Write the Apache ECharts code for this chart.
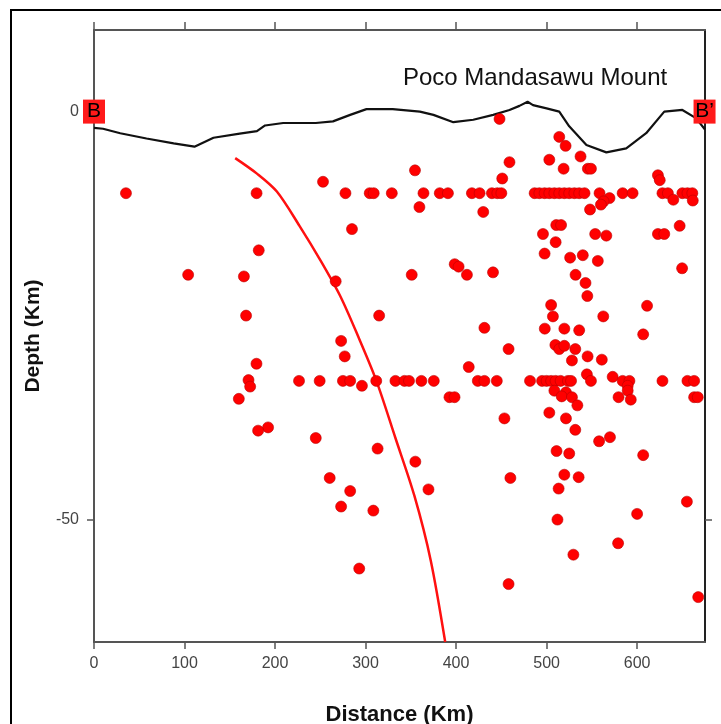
<!DOCTYPE html>
<html>
<head>
<meta charset="utf-8">
<script src="https://cdn.jsdelivr.net/npm/echarts@6/dist/echarts.min.js"></script>
<style>
  html, body { margin: 0; padding: 0; background: #fff; }
  #chart { width: 721px; height: 724px; }
</style>
</head>
<body>
<div id="chart"></div>
<script>
// 地形剖面 (km, km)
var topoDist = [0, 10, 29, 58, 88, 111, 132, 161, 180, 189, 209, 227, 245, 264, 283, 301, 330, 360, 375, 397, 419, 441, 459, 470, 479, 485, 500, 514, 525, 544, 566, 588, 610, 630, 650, 665, 675];
var topoElev = [-2.0, -2.1, -2.65, -3.3, -3.9, -4.3, -3.2, -2.7, -2.4, -1.7, -1.4, -1.4, -1.4, -1.2, -0.4, 0.3, 0.3, 0.0, -0.4, -1.3, -1.0, -0.4, 0.2, 0.7, 1.2, 0.8, 0.4, 0.0, -1.8, -4.1, -5.0, -4.5, -2.65, 0.0, 0.2, -0.8, -2.2];

// 红色曲线
var slabDist = [156, 180, 202, 227, 250, 272, 292, 312, 333, 354, 372, 388];
var slabDepth = [-5.7, -7.6, -9.8, -14, -18.2, -22.6, -27.6, -33, -40, -47.1, -55, -65];

// 震源
var quakeDist = [
  448, 514, 521, 537.5, 503, 459, 354.6, 518.8, 545.6, 549, 623, 625, 253, 451,
  35.3, 179.6, 277.8, 304.6, 309, 329, 364, 382, 391, 417.5, 426, 439.6, 445.6, 450,
  486.8, 492, 497.8, 503, 508.6, 514, 519.6, 525, 530.7, 536, 541.9, 558.5, 584, 595,
  628, 634, 650, 655.6, 661,
  569.5, 563, 560, 640, 661.5, 359.5, 430, 548, 510.7, 516, 647, 285, 496, 553.7, 566,
  623, 630, 510, 182, 497.8, 526, 540, 556.6, 398.5, 402.8, 649.7, 440.8, 412, 351,
  104, 165.6, 532, 267, 543, 545, 505, 611, 507, 562.6, 168, 315, 431.3, 498, 519.6,
  536, 606.7, 273, 458, 509.7, 514, 519.6, 531.7, 277, 545.3, 561, 528, 179.5, 414,
  544.5, 573, 170.7, 172.5,
  226.5, 249.3, 275, 283, 311.8, 333, 343, 348, 361.7, 375.4, 424, 431.3, 445, 481.7,
  495, 500, 505, 510, 515.5, 523.6, 527, 549, 584, 591.5, 628, 655.6, 663,
  296, 589.6, 589.6, 508.6, 521.4, 516.7, 528, 579.5, 593, 663, 667, 160, 392.7, 398.3,
  534, 503, 453.4, 521.4, 192.3, 181.3, 531.7, 245, 570, 558, 313.3, 511, 525, 606.7,
  355, 260.4, 460, 519.6, 535.4, 513.3, 283, 369.5, 273, 308.6, 655, 600, 512, 579,
  529.6, 293, 458, 667.5
];
var quakeDepth = [
  -0.9, -3.1, -4.2, -5.5, -5.9, -6.2, -7.2, -7.0, -7.0, -7.0, -7.8, -8.4, -8.6, -8.2,
  -10, -10, -10, -10, -10, -10, -10, -10, -10, -10, -10, -10, -10, -10,
  -10, -10, -10, -10, -10, -10, -10, -10, -10, -10, -10, -10, -10, -10,
  -10, -10, -10, -10, -10,
  -10.6, -11.0, -11.4, -10.8, -10.9, -11.7, -12.3, -12.0, -13.9, -13.9, -14.0, -14.4, -15.0, -15.0, -15.2,
  -15.0, -15.0, -16.0, -17.0, -17.4, -17.9, -17.6, -18.3, -18.7, -19.0, -19.2, -19.7, -20.0, -20.0,
  -20.0, -20.2, -20.0, -20.8, -21.0, -22.6, -23.7, -23.8, -25.1, -25.1, -25.0, -25.0, -26.5, -26.6, -26.6,
  -26.8, -27.3, -28.1, -29.1, -28.6, -29.1, -28.7, -29.1, -30.0, -30.0, -30.4, -30.5, -30.9, -31.3,
  -32.2, -32.5, -32.9, -33.7,
  -33, -33, -33, -33, -33, -33, -33, -33, -33, -33, -33, -33, -33, -33,
  -33, -33, -33, -33, -33, -33, -33, -33, -33, -33, -33, -33, -33,
  -33.6, -33.6, -34.2, -34.2, -34.4, -34.9, -35.0, -35.0, -35.3, -35.0, -35.0, -35.2, -35.0, -35.0,
  -36.0, -36.9, -37.6, -37.6, -38.7, -39.1, -39.0, -40.0, -39.9, -40.4, -41.3, -41.6, -41.9, -42.1,
  -42.9, -44.9, -44.9, -44.5, -44.8, -46.2, -46.5, -46.3, -48.4, -48.9, -47.8, -49.3, -50.0, -52.9,
  -54.3, -56.0, -57.9, -59.5
];

// 剖面端点
var markerDist = [0, 674.5];
var markerText = ['B', 'B\u2019'];

// 坐标轴刻度
var xTicks = [0, 100, 200, 300, 400, 500, 600];
var yTicks = [0, -50];

var font = 'Liberation Sans, Arial, sans-serif';

function pairs(xs, ys) {
  return xs.map(function (x, i) { return [x, ys[i]]; });
}

var axisLineStyle = { color: '#555', width: 2 };

var option = {
  animation: false,
  title: {
    text: 'Poco Mandasawu Mount',
    left: 398,
    top: 61,
    textStyle: { fontFamily: font, fontSize: 24, fontWeight: 'normal', color: '#111' }
  },
  grid: { left: 94, right: 16, top: 30, bottom: 82, outerBoundsMode: 'none' },
  xAxis: [
    {
      type: 'value',
      position: 'bottom',
      min: 0,
      max: 675,
      name: 'Distance (Km)',
      nameLocation: 'middle',
      nameGap: 62,
      nameTextStyle: { fontFamily: font, fontSize: 22, fontWeight: 'bold', color: '#111' },
      axisLine: { show: true, onZero: false, lineStyle: axisLineStyle },
      axisTick: { show: true, length: 7, customValues: xTicks, lineStyle: { color: '#555', width: 1.5 } },
      axisLabel: { customValues: xTicks, margin: 14, fontFamily: font, fontSize: 16, color: '#444' },
      splitLine: { show: false }
    },
    {
      type: 'value',
      position: 'top',
      min: 0,
      max: 675,
      axisLine: { show: true, onZero: false, lineStyle: axisLineStyle },
      axisTick: { show: true, length: 8, customValues: xTicks, lineStyle: { color: '#555', width: 1.5 } },
      axisLabel: { show: false },
      splitLine: { show: false }
    }
  ],
  yAxis: [
    {
      type: 'value',
      position: 'left',
      min: -65,
      max: 10,
      name: 'Depth (Km)',
      nameLocation: 'middle',
      nameGap: 50,
      nameTextStyle: { fontFamily: font, fontSize: 21, fontWeight: 'bold', color: '#111' },
      axisLine: { show: true, onZero: false, lineStyle: axisLineStyle },
      axisTick: { show: true, length: 7, customValues: yTicks, lineStyle: { color: '#555', width: 1.5 } },
      axisLabel: { customValues: yTicks, margin: 15, fontFamily: font, fontSize: 16, color: '#444' },
      splitLine: { show: false }
    },
    {
      type: 'value',
      position: 'right',
      min: -65,
      max: 10,
      axisLine: { show: true, onZero: false, lineStyle: { color: '#222', width: 2 } },
      axisTick: { show: true, length: 7, customValues: yTicks, lineStyle: { color: '#555', width: 1.5 } },
      axisLabel: { show: false },
      splitLine: { show: false }
    }
  ],
  graphic: [
    {
      type: 'rect',
      shape: { x: 11, y: 10, width: 740, height: 740 },
      style: { fill: 'none', stroke: '#000', lineWidth: 2 },
      silent: true
    }
  ],
  series: [
    {
      name: 'topo',
      type: 'line',
      data: pairs(topoDist, topoElev),
      showSymbol: false,
      lineStyle: { color: '#111', width: 2.2 },
      z: 3
    },
    {
      name: 'slab',
      type: 'line',
      data: pairs(slabDist, slabDepth),
      smooth: 0.3,
      showSymbol: false,
      lineStyle: { color: '#ff1010', width: 2.5 },
      z: 2
    },
    {
      name: 'events',
      type: 'scatter',
      data: pairs(quakeDist, quakeDepth),
      symbolSize: 11,
      itemStyle: { color: '#ff0000', borderColor: '#b80000', borderWidth: 0.6, opacity: 1 },
      z: 4
    },
    {
      name: 'ends',
      type: 'scatter',
      clip: false,
      data: markerDist.map(function (x, i) { return { value: [x, 0], name: markerText[i] }; }),
      symbol: 'rect',
      symbolSize: [22, 24],
      itemStyle: { color: '#ff1a1a', opacity: 1 },
      label: {
        show: true,
        position: 'inside',
        formatter: function (p) { return p.name; },
        fontFamily: font,
        fontSize: 21,
        color: '#000'
      },
      z: 6
    }
  ]
};

var chart = echarts.init(document.getElementById('chart'));
chart.setOption(option);
</script>
</body>
</html>
